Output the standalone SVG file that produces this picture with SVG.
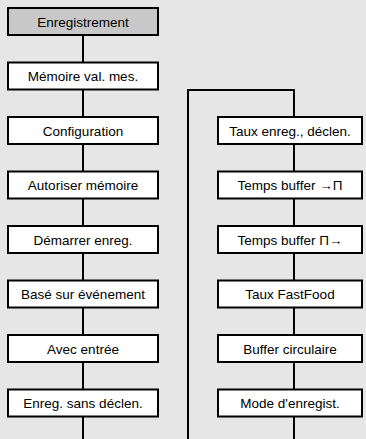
<svg xmlns="http://www.w3.org/2000/svg" width="366" height="439" viewBox="0 0 366 439">
<style>
.bg{fill:#e6e6e6}
.box{fill:#ffffff;stroke:#000;stroke-width:2}
.hd{fill:#c8c8c8;stroke:#000;stroke-width:2}
.ln{fill:none;stroke:#000;stroke-width:2}
text{font-family:"Liberation Sans",Arial,sans-serif;font-size:13.5px;fill:#000;text-anchor:middle}
</style>
<rect class="bg" x="0" y="0" width="366" height="439"/>
<g id="connectors">
<line class="ln" x1="83" y1="35" x2="83" y2="439"/>
<polyline class="ln" points="188,439 188,90 294,90 294,439"/>
</g>
<g id="n1"><rect class="hd" x="8" y="8" width="150" height="27"/><text x="83" y="26.5">Enregistrement</text></g>
<g id="n2"><rect class="box" x="8" y="62.5" width="150" height="27"/><text x="83" y="81">Mémoire val. mes.</text></g>
<g id="n3"><rect class="box" x="8" y="117" width="150" height="27"/><text x="83" y="135.5">Configuration</text></g>
<g id="n4"><rect class="box" x="8" y="171.5" width="150" height="27"/><text x="83" y="190">Autoriser mémoire</text></g>
<g id="n5"><rect class="box" x="8" y="226" width="150" height="27"/><text x="83" y="244.5">Démarrer enreg.</text></g>
<g id="n6"><rect class="box" x="8" y="280.5" width="150" height="27"/><text x="83" y="299">Basé sur événement</text></g>
<g id="n7"><rect class="box" x="8" y="335" width="150" height="27"/><text x="83" y="353.5">Avec entrée</text></g>
<g id="n8"><rect class="box" x="8" y="389.5" width="150" height="27"/><text x="83" y="408">Enreg. sans déclen.</text></g>
<g id="r1"><rect class="box" x="218" y="117" width="144" height="27"/><text x="290" y="135.5">Taux enreg., déclen.</text></g>
<g id="r2"><rect class="box" x="218" y="171.5" width="144" height="27"/><text x="290" y="190">Temps buffer →Π</text></g>
<g id="r3"><rect class="box" x="218" y="226" width="144" height="27"/><text x="290" y="244.5">Temps buffer Π→</text></g>
<g id="r4"><rect class="box" x="218" y="280.5" width="144" height="27"/><text x="290" y="299">Taux FastFood</text></g>
<g id="r5"><rect class="box" x="218" y="335" width="144" height="27"/><text x="290" y="353.5">Buffer circulaire</text></g>
<g id="r6"><rect class="box" x="218" y="389.5" width="144" height="27"/><text x="290" y="408">Mode d'enregist.</text></g>
</svg>
